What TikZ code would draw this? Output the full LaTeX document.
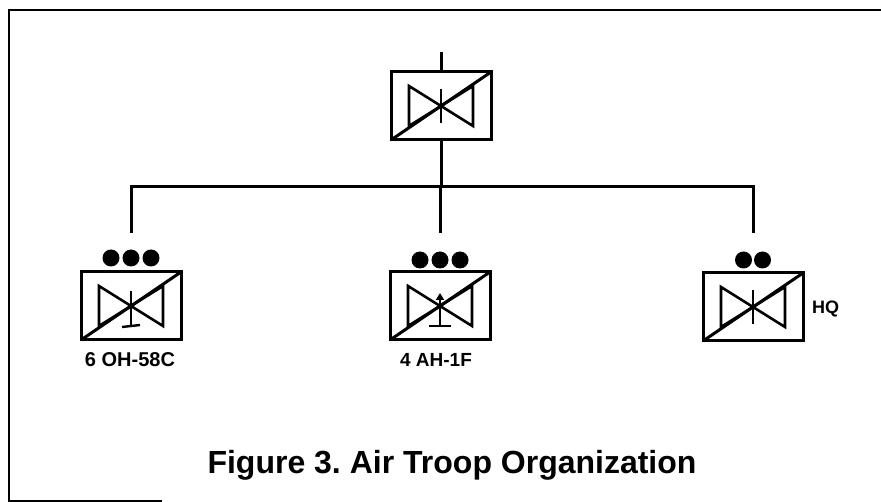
\documentclass[tikz,border=0pt]{standalone}
\usepackage{fontspec}
\setmainfont{Liberation Sans}
\usetikzlibrary{arrows.meta}
\frenchspacing

% marks inside the rotary wing symbol
\newcommand{\plainmast}{%
  \draw[line width=2.4pt] ([shift={(0,-17)}]path picture bounding box.center)
    -- ([shift={(0,17)}]path picture bounding box.center);}
\newcommand{\scoutmast}{%
  \draw[line width=2.4pt] ([shift={(0,-15)}]path picture bounding box.center)
    -- ([shift={(0,20)}]path picture bounding box.center);
  \draw[line width=2.4pt] ([shift={(-9,21)}]path picture bounding box.center)
    -- ([shift={(9,19)}]path picture bounding box.center);}
\newcommand{\attackmast}{%
  \draw[line width=2.4pt,-{Triangle[width=8pt,length=7pt]}] ([shift={(0,20)}]path picture bounding box.center)
    -- ([shift={(0,-13)}]path picture bounding box.center);
  \draw[line width=2.4pt] ([shift={(-11,20)}]path picture bounding box.center)
    -- ([shift={(11,20)}]path picture bounding box.center);}

\tikzset{
  unitbox/.style={draw, line width=3pt, minimum width=100pt, minimum height=68pt, inner sep=0pt,
    path picture={
      \draw[line width=3pt] (path picture bounding box.south west) -- (path picture bounding box.north east);
      \draw[line width=2.6pt,line join=miter] ([shift={(-32,-20)}]path picture bounding box.center)
        -- ([shift={(32,20)}]path picture bounding box.center)
        -- ([shift={(32,-20)}]path picture bounding box.center)
        -- ([shift={(-32,20)}]path picture bounding box.center) -- cycle;
      #1
    }},
  link/.style={line width=3pt},
  unitlabel/.style={font=\fontsize{20}{24}\selectfont\bfseries, inner sep=0pt}
}

\begin{document}
\begin{tikzpicture}[x=1pt,y=-1pt]
\useasboundingbox (0,0) rectangle (881,502);
% page frame
\draw[line width=2.2pt] (881,10) -- (9,10) -- (9,501) -- (162,501);

% troop and its sections
\node[unitbox=\plainmast] (troop) at (441,106) {};
\node[unitbox=\scoutmast] (scout) at (131,306) {};
\node[unitbox=\attackmast] (attack) at (440,306) {};
\node[unitbox=\plainmast] (hq) at (753,307) {};

\coordinate (head) at (441,52);
\coordinate (bar) at (441,187);
\coordinate (scouttop) at (131,233);
\coordinate (attacktop) at (440,233);
\coordinate (hqtop) at (753,233);

\draw[link] (head) -- (troop.north);
\draw[link] (troop.south) -- (bar);
\draw[link] (scouttop) |- (bar) -| (hqtop);
\draw[link] (attacktop) -- (attacktop |- bar);

% echelon dots
\foreach \x in {111,131,151} \fill (\x,258) circle (8.5);
\foreach \x in {420,440,460} \fill (\x,260) circle (8.5);
\foreach \x in {743.5,762.5} \fill (\x,260) circle (8.5);

\node[unitlabel] (scoutname) at (130,360) {6 OH-58C};
\node[unitlabel,font=\fontsize{19}{23}\selectfont\bfseries] (attackname) at (436,360) {4 AH-1F};
\node[unitlabel,font=\fontsize{18}{22}\selectfont\bfseries,anchor=west] (hqname) at (812,309) {HQ};

\node[font=\fontsize{32}{38}\selectfont\bfseries] (title) at (452,465) {Figure 3. Air Troop Organization};
\end{tikzpicture}
\end{document}
